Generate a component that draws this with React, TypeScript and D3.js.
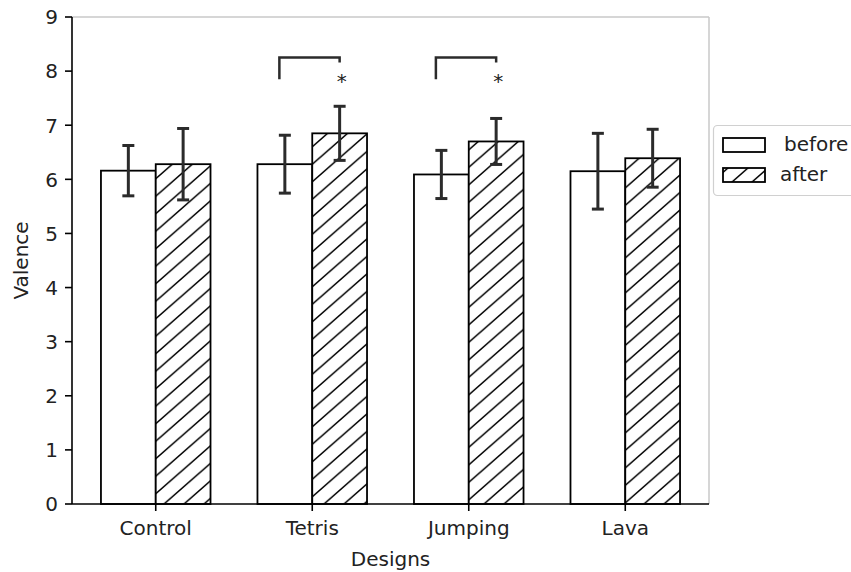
import React from "react";
import * as d3 from "d3";

const categories = ["Control", "Tetris", "Jumping", "Lava"];
const beforeValues = [6.16, 6.28, 6.09, 6.15];
const afterValues = [6.28, 6.85, 6.70, 6.39];
const beforeErrors = [0.465, 0.535, 0.445, 0.70];
const afterErrors = [0.66, 0.50, 0.425, 0.535];
const yTicks = [0, 1, 2, 3, 4, 5, 6, 7, 8, 9];
const seriesLabels = ["before", "after"];
const sigCategories = ["Tetris", "Jumping"];
const bracketLow = 7.85;
const bracketTop = 8.25;
const bracketRightLow = 8.16;
const starLevel = 7.69;

const W = 851;
const H = 572;
const left = 72;
const right = 709;
const top = 17;
const bottom = 504;
const barW = 0.35;
const FONT = "DejaVu Sans, sans-serif";
const FS = 20;
const ERR = "#2b2b2b";
const HW = 20;
const HH = 17.5;

export default function App() {
  const x = d3.scaleLinear().domain([-0.535, 3.535]).range([left, right]);
  const y = d3.scaleLinear().domain([0, 9]).range([bottom, top]);
  const bw = x(barW) - x(0);
  const cap = 6;

  const bars: any[] = [];
  categories.forEach((c, i) => {
    const series = [
      { v: beforeValues[i], e: beforeErrors[i], x0: x(i - barW), hatch: false },
      { v: afterValues[i], e: afterErrors[i], x0: x(i), hatch: true },
    ];
    series.forEach((s, j) => {
      bars.push(
        <rect
          key={`b${i}-${j}`}
          x={s.x0}
          y={y(s.v)}
          width={bw}
          height={y(0) - y(s.v)}
          fill={s.hatch ? "url(#hatch)" : "#fff"}
          stroke="#000"
          strokeWidth={1.8}
        />
      );
    });
    series.forEach((s, j) => {
      const cx = s.x0 + bw / 2;
      bars.push(
        <g key={`e${i}-${j}`} stroke={ERR} strokeWidth={3}>
          <line x1={cx} x2={cx} y1={y(s.v - s.e)} y2={y(s.v + s.e)} />
          <line x1={cx - cap} x2={cx + cap} y1={y(s.v - s.e)} y2={y(s.v - s.e)} />
          <line x1={cx - cap} x2={cx + cap} y1={y(s.v + s.e)} y2={y(s.v + s.e)} />
        </g>
      );
    });
  });

  const line = d3.line<[number, number]>().x((d) => x(d[0])).y((d) => y(d[1]));

  return (
    <svg
      width={W}
      height={H}
      style={{ position: "absolute", left: 0, top: 0, background: "#fff" }}
      fontFamily={FONT}
    >
      <defs>
        <pattern id="hatch" patternUnits="userSpaceOnUse" width={HW} height={HH}>
          <rect width={HW} height={HH} fill="#fff" />
          <path
            d={`M${-5},${HH + 5 * HH / HW} L${HW + 5},${-5 * HH / HW} M-5,${5 * HH / HW} L5,${-5 * HH / HW} M${HW - 5},${HH + 5 * HH / HW} L${HW + 5},${HH - 5 * HH / HW}`}
            stroke="#000"
            strokeWidth={1.5}
          />
        </pattern>
      </defs>
      <rect x={0} y={0} width={W} height={H} fill="#fff" />

      {/* light top/right spines */}
      <line x1={left} x2={right} y1={top} y2={top} stroke="#c8c8c8" strokeWidth={1.5} />
      <line x1={right} x2={right} y1={top} y2={bottom} stroke="#c8c8c8" strokeWidth={1.5} />

      {bars}

      {/* significance brackets */}
      {sigCategories.map((c) => {
        const i = categories.indexOf(c);
        const pts: [number, number][] = [
          [i - 0.21, bracketLow],
          [i - 0.21, bracketTop],
          [i + barW / 2, bracketTop],
          [i + barW / 2, bracketRightLow],
        ];
        return (
          <g key={`s${c}`}>
            <path d={line(pts) || ""} fill="none" stroke={ERR} strokeWidth={2.5} />
            <text
              x={x(i + barW / 2) + 2}
              y={y(starLevel)}
              fontSize={FS}
              textAnchor="middle"
              fill="#222"
            >
              *
            </text>
          </g>
        );
      })}

      {/* axes spines */}
      <line x1={left} x2={left} y1={top} y2={bottom} stroke="#000" strokeWidth={1.6} />
      <line x1={left} x2={right} y1={bottom} y2={bottom} stroke="#000" strokeWidth={1.6} />

      {/* y ticks */}
      {yTicks.map((t) => (
        <g key={`yt${t}`}>
          <line x1={left - 7} x2={left} y1={y(t)} y2={y(t)} stroke="#000" strokeWidth={1.6} />
          <text x={left - 14} y={y(t) + 7.3} fontSize={FS} textAnchor="end" fill="#222">
            {t}
          </text>
        </g>
      ))}

      {/* x ticks */}
      {categories.map((c, i) => (
        <g key={`xt${c}`}>
          <line x1={x(i)} x2={x(i)} y1={bottom} y2={bottom + 7} stroke="#000" strokeWidth={1.6} />
          <text x={x(i)} y={535} fontSize={FS} textAnchor="middle" fill="#222">
            {c}
          </text>
        </g>
      ))}

      <text x={(left + right) / 2} y={566} fontSize={FS} textAnchor="middle" fill="#222">
        Designs
      </text>
      <text
        transform={`translate(28,${(top + bottom) / 2}) rotate(-90)`}
        fontSize={FS}
        textAnchor="middle"
        fill="#222"
      >
        Valence
      </text>

      {/* legend */}
      <rect x={713.5} y={125.5} width={160} height={70} rx={4} fill="#fff" stroke="#d0d0d0" strokeWidth={1.2} />
      {seriesLabels.map((lab, j) => (
        <g key={`lg${lab}`}>
          <rect
            x={723}
            y={138 + j * 30}
            width={42}
            height={14}
            fill={j === 1 ? "url(#hatch)" : "#fff"}
            stroke="#000"
            strokeWidth={1.8}
          />
          <text x={j === 0 ? 784 : 780} y={151 + j * 30} fontSize={FS} fill="#222">
            {lab}
          </text>
        </g>
      ))}
    </svg>
  );
}
